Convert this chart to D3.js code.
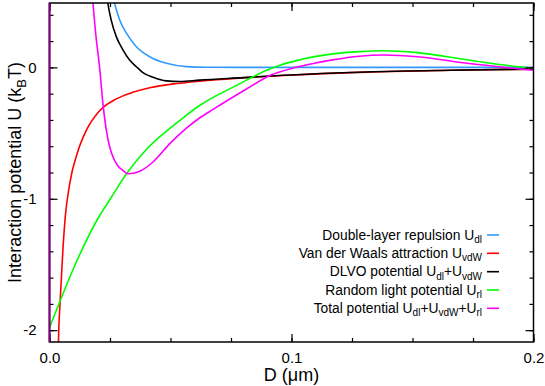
<!DOCTYPE html>
<html><head><meta charset="utf-8">
<script src="https://cdn.jsdelivr.net/npm/d3@7"></script>
<style>body{margin:0;background:#fff}svg{display:block}text{font-family:"Liberation Sans",Arial,sans-serif}</style>
</head><body><svg id="c" width="545" height="386"></svg>
<script>
// ---- data ----
const xTicks = [0, 0.1, 0.2];
const xTickLabels = ["0.0", "0.1", "0.2"];
const yTicks = [0, -1, -2];
const yTickLabels = ["0", "-1", "-2"];

const dlD = [0.0225, 0.024, 0.0255, 0.0269, 0.029, 0.0318, 0.0359, 0.0414, 0.0483, 0.0566, 0.065, 0.08, 0.1, 0.15, 0.2];
const dlU = [1.0, 0.70, 0.58, 0.486, 0.361, 0.26, 0.157, 0.081, 0.031, 0.006, 0.001, 0, 0, 0, 0];

const vdwD = [0.0034, 0.0037, 0.0044, 0.0055, 0.0065, 0.0083, 0.0117, 0.0152, 0.0207, 0.0276, 0.0344, 0.0414, 0.0525, 0.062, 0.08, 0.0966, 0.131, 0.166, 0.2];
const vdwU = [-2.4, -2.09, -1.78, -1.40, -1.14, -0.89, -0.64, -0.48, -0.33, -0.24, -0.19, -0.155, -0.123, -0.105, -0.08, -0.062, -0.036, -0.022, -0.013];

const dlvoD = [0.0225, 0.0241, 0.0255, 0.0276, 0.0304, 0.0331, 0.0359, 0.0386, 0.0428, 0.0483, 0.0538, 0.062, 0.08, 0.0966, 0.131, 0.166, 0.2];
const dlvoU = [0.75, 0.49, 0.36, 0.234, 0.132, 0.056, 0.005, -0.04, -0.075, -0.103, -0.108, -0.097, -0.078, -0.06, -0.035, -0.022, -0.013];

const rlD = [0, 0.0041, 0.0104, 0.02, 0.0255, 0.0318, 0.04, 0.0497, 0.0538, 0.062, 0.0676, 0.0759, 0.0814, 0.0897, 0.0952, 0.1035, 0.109, 0.117, 0.128, 0.138, 0.152, 0.1725, 0.186, 0.2];
const rlU = [-1.98, -1.79, -1.51, -1.15, -0.99, -0.81, -0.625, -0.465, -0.405, -0.29, -0.228, -0.15, -0.097, -0.022, 0.017, 0.058, 0.08, 0.103, 0.12, 0.127, 0.112, 0.058, 0.022, -0.008];

const totD = [0.016, 0.0179, 0.0193, 0.0207, 0.0221, 0.0235, 0.0248, 0.0262, 0.0283, 0.0304, 0.0324, 0.0373, 0.0428, 0.0497, 0.0566, 0.062, 0.0676, 0.0814, 0.0915, 0.1007, 0.109, 0.117, 0.128, 0.138, 0.152, 0.1725, 0.2];
const totU = [0.9, 0.5, 0.22, 0.0, -0.28, -0.48, -0.6, -0.68, -0.75, -0.785, -0.81, -0.79, -0.72, -0.58, -0.462, -0.385, -0.32, -0.165, -0.058, -0.005, 0.03, 0.057, 0.085, 0.094, 0.081, 0.031, -0.022];

const seriesNames = ["Double-layer repulsion U", "Van der Waals attraction U", "DLVO potential U", "Random light potential U", "Total potential U"];
const seriesColors = ["#3399ff", "#ff0000", "#000000", "#00ff00", "#ff00ff"];

// ---- layout ----
const svg = d3.select("#c");
const L = 49.5, R = 533.5, T = 3, B = 342;
const x = d3.scaleLinear().domain([0, 0.2]).range([L, R]);
const y = d3.scaleLinear().domain([-2.09, 0.49]).range([B, T]);

svg.append("defs").append("clipPath").attr("id","clip")
  .append("rect").attr("x", L).attr("y", T).attr("width", R-L).attr("height", B-T);

const line = d3.line().x(d=>x(d[0])).y(d=>y(d[1])).curve(d3.curveMonotoneX);
const series = [[dlD, dlU], [vdwD, vdwU], [dlvoD, dlvoU], [rlD, rlU], [totD, totU]];
const g = svg.append("g").attr("clip-path","url(#clip)");
series.forEach((s,i)=>{
  const pts = s[0].map((d,j)=>[d, s[1][j]]);
  g.append("path").attr("d", line(pts)).attr("fill","none")
   .attr("stroke", seriesColors[i]).attr("stroke-width", 1.6);
});

// ---- axes (ticks inward on all four sides) ----
const minorX = d3.range(0, 0.2001, 0.025);
const minorY = d3.range(-2.0, 0.4001, 0.2).map(v=>+v.toFixed(2));
svg.append("g").attr("transform",`translate(0,${B})`)
  .call(d3.axisBottom(x).tickValues(minorX).tickSize(-4).tickFormat(""));
svg.append("g").attr("transform",`translate(0,${T})`)
  .call(d3.axisTop(x).tickValues(minorX).tickSize(-4).tickFormat(""));
svg.append("g").attr("transform",`translate(${L},0)`)
  .call(d3.axisLeft(y).tickValues(minorY).tickSize(-4).tickFormat(""));
svg.append("g").attr("transform",`translate(${R},0)`)
  .call(d3.axisRight(y).tickValues(minorY).tickSize(-4).tickFormat(""));
// major ticks
svg.append("g").attr("transform",`translate(0,${B})`)
  .call(d3.axisBottom(x).tickValues(xTicks).tickSize(-8).tickPadding(10).tickFormat((d,i)=>xTickLabels[i]));
svg.append("g").attr("transform",`translate(0,${T})`)
  .call(d3.axisTop(x).tickValues(xTicks).tickSize(-8).tickFormat(""));
svg.append("g").attr("transform",`translate(${L},0)`)
  .call(d3.axisLeft(y).tickValues(yTicks).tickSize(-8).tickPadding(13).tickFormat((d,i)=>yTickLabels[i]));
svg.append("g").attr("transform",`translate(${R},0)`)
  .call(d3.axisRight(y).tickValues(yTicks).tickSize(-8).tickFormat(""));
svg.selectAll(".domain").remove();
svg.selectAll(".tick line").attr("stroke","#000").attr("stroke-width",1.2);
svg.selectAll(".tick text").attr("font-size",15).attr("fill","#000")
   .style("font-family","'Liberation Sans',Arial,sans-serif");

// frame
svg.append("rect").attr("x",L).attr("y",T).attr("width",R-L).attr("height",B-T)
  .attr("fill","none").attr("stroke","#000").attr("stroke-width",1.5);
svg.append("line").attr("x1",L).attr("x2",L).attr("y1",T).attr("y2",B)
  .attr("stroke","#800080").attr("stroke-width",2);

// axis titles
svg.append("text").attr("x", (L+R)/2).attr("y", 381).attr("text-anchor","middle")
  .attr("font-size",18).text("D (\u03bcm)");
const yl = svg.append("text").attr("transform",`translate(21,${(T+B)/2}) rotate(-90)`)
  .attr("text-anchor","middle").attr("font-size",18);
yl.append("tspan").text("Interaction potential U (k");
yl.append("tspan").attr("dy",5).attr("font-size",13).text("B");
yl.append("tspan").attr("dy",-5).text("T)");

// legend
const subs = [["dl"],["vdW"],["dl","+U","vdW"],["rl"],["dl","+U","vdW","+U","rl"]];
const rowsY = [235, 253.3, 271.7, 290, 308.3];
seriesNames.forEach((name,i)=>{
  const t = svg.append("text").attr("x",482).attr("y",rowsY[i]+4.5)
    .attr("text-anchor","end").attr("font-size",13.8);
  t.append("tspan").text(name);
  subs[i].forEach((s,k)=>{
    if (k%2===0) t.append("tspan").attr("dy",3.5).attr("font-size",10).text(s);
    else t.append("tspan").attr("dy",-3.5).text(s);
  });
  svg.append("line").attr("x1",487).attr("x2",499).attr("y1",rowsY[i]).attr("y2",rowsY[i])
    .attr("stroke",seriesColors[i]).attr("stroke-width",1.6);
});
</script></body></html>
